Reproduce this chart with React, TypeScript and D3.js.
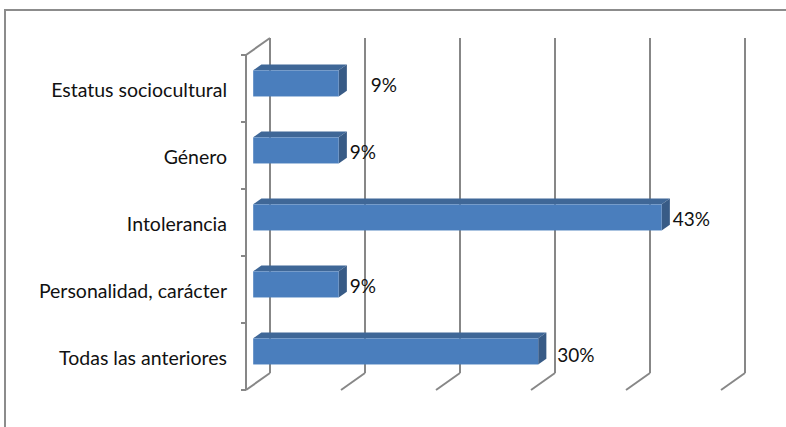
import React from "react";
import * as d3 from "d3";

const categories = [
  "Estatus sociocultural",
  "Género",
  "Intolerancia",
  "Personalidad, carácter",
  "Todas las anteriores",
];
const values = [9, 9, 43, 9, 30];
const valueLabels = ["9%", "9%", "43%", "9%", "30%"];
const xTicks = [0, 10, 20, 30, 40, 50];

const W = 786;
const H = 427;
// front plane geometry
const FX0 = 246;
const FX1 = 721;
const FY0 = 55;
const FY1 = 390;
// full depth offset
const DX = 24;
const DY = -17;
// bar depth range (fraction of depth)
const ZF = 0.3;
const ZB = 0.64;

const FONT = "Lato, 'Liberation Sans', sans-serif";

export default function App() {
  const x = d3.scaleLinear().domain([0, 50]).range([FX0, FX1]);
  const y = d3.scaleBand<string>().domain(categories).range([FY0, FY1]).paddingInner(0).paddingOuter(0);
  const barH = y.bandwidth() * 0.39;
  const grid = "#878787";

  const nudges: Record<number, [number, number]> = { 0: [21, 0], 4: [8, 2] };

  return (
    <svg width={W} height={H} style={{ position: "absolute", left: 0, top: 0, background: "#fff" }}>
      {/* outer frame */}
      <rect x={5} y={10} width={W + 10} height={H + 10} fill="#fff" stroke="#8c8c8c" strokeWidth={2} />

      {/* back wall gridlines + floor diagonals */}
      {xTicks.map((t) => {
        const fx = x(t);
        return (
          <g key={t}>
            <line x1={fx + DX} x2={fx + DX} y1={FY0 + DY} y2={FY1 + DY} stroke={grid} strokeWidth={2} />
            <line x1={fx} y1={FY1} x2={fx + DX} y2={FY1 + DY} stroke={grid} strokeWidth={2} />
          </g>
        );
      })}
      {/* side wall (left axis) */}
      <line x1={FX0} x2={FX0} y1={FY0} y2={FY1} stroke={grid} strokeWidth={2} />
      <line x1={FX0} y1={FY0} x2={FX0 + DX} y2={FY0 + DY} stroke={grid} strokeWidth={2} />
      {/* category tick marks */}
      {categories.concat(["__end"]).map((c, i) => {
        const yy = i < categories.length ? (y(c) as number) : FY1;
        return <line key={i} x1={FX0 - 5} x2={FX0} y1={yy} y2={yy} stroke={grid} strokeWidth={2} />;
      })}

      {/* category labels */}
      {categories.map((c) => (
        <text
          key={c}
          x={227}
          y={(y(c) as number) + y.bandwidth() / 2 + 1}
          textAnchor="end"
          dominantBaseline="central"
          fontFamily={FONT}
          fontSize={19.5}
          fill="#111"
        >
          {c}
        </text>
      ))}

      {/* bars */}
      {categories.map((c, i) => {
        const cy = (y(c) as number) + y.bandwidth() / 2 + DY * ZF;
        const x0 = x(0) + DX * ZF;
        const x1 = x(values[i]) + DX * ZF;
        const ddx = DX * (ZB - ZF);
        const ddy = DY * (ZB - ZF);
        const top = cy - barH / 2;
        const bot = cy + barH / 2;
        const [nx, ny] = nudges[i] || [0, 0];
        return (
          <g key={c}>
            <polygon
              points={`${x0},${top} ${x1},${top} ${x1 + ddx},${top + ddy} ${x0 + ddx},${top + ddy}`}
              fill="#3F6797"
            />
            <polygon
              points={`${x1},${top} ${x1 + ddx},${top + ddy} ${x1 + ddx},${bot + ddy} ${x1},${bot}`}
              fill="#385B86"
            />
            <rect x={x0} y={top} width={x1 - x0} height={barH} fill="#4A7EBD" />
            <text
              x={x1 + 11 + nx}
              y={cy + 1 + ny}
              dominantBaseline="central"
              fontFamily={FONT}
              fontSize={19}
              fill="#111"
            >
              {valueLabels[i]}
            </text>
          </g>
        );
      })}
    </svg>
  );
}
